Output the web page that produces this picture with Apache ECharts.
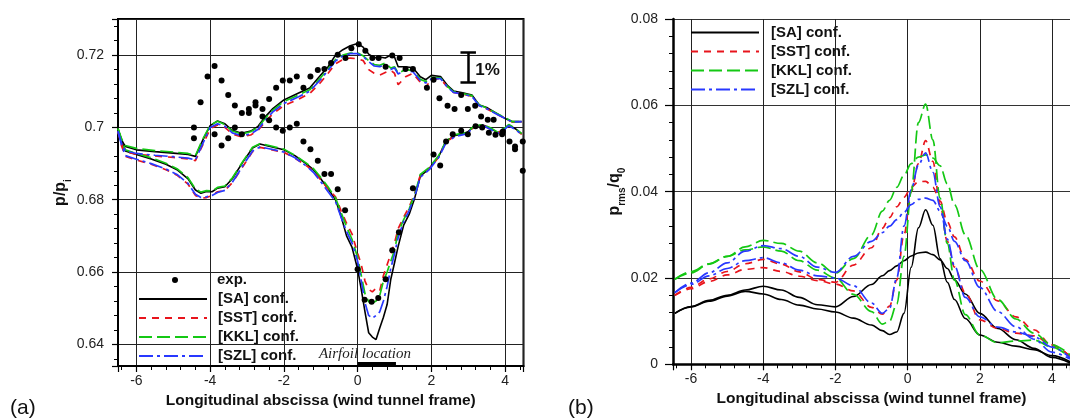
<!DOCTYPE html>
<html><head><meta charset="utf-8">
<script src="https://cdn.jsdelivr.net/npm/echarts@6/dist/echarts.min.js"></script>
<style>html,body{margin:0;padding:0;background:#fff}#c{width:1070px;height:419px}</style>
</head><body><div id="c"></div>
<script>
// ---------- Panel (a): p/p_i ----------
const X_A_UPPER = [-6.5,-6.4,-6.3,-6.0,-5.5,-5.0,-4.6,-4.4,-4.2,-4.0,-3.8,-3.6,-3.4,-3.15,-2.9,-2.7,-2.5,-2.3,-2.0,-1.6,-1.3,-1.0,-0.8,-0.6,-0.4,-0.2,0.0,0.15,0.3,0.45,0.6,0.75,0.9,1.0,1.1,1.3,1.5,1.7,1.85,2.0,2.25,2.45,2.6,2.85,3.1,3.3,3.5,3.75,4.0,4.2,4.45];
const SA_A_UPPER  = [0.6995,0.6965,0.6947,0.6938,0.6933,0.6929,0.6925,0.6920,0.6965,0.7005,0.7018,0.7010,0.6992,0.6984,0.6990,0.7003,0.7030,0.7052,0.7076,0.7095,0.7109,0.7145,0.7168,0.7200,0.7215,0.7226,0.7232,0.7222,0.7203,0.7193,0.7195,0.7192,0.7200,0.7195,0.7168,0.7168,0.7165,0.7140,0.7132,0.7144,0.7141,0.7115,0.7101,0.7096,0.7090,0.7062,0.7055,0.7040,0.7025,0.7016,0.7016];
const SST_A_UPPER = [0.6990,0.6953,0.6933,0.6926,0.6921,0.6917,0.6913,0.6908,0.6952,0.6996,0.7007,0.7000,0.6982,0.6974,0.6979,0.6992,0.7016,0.7038,0.7060,0.7078,0.7094,0.7125,0.7150,0.7176,0.7188,0.7192,0.7190,0.7185,0.7160,0.7150,0.7145,0.7152,0.7158,0.7150,0.7118,0.7140,0.7150,0.7125,0.7110,0.7135,0.7134,0.7110,0.7097,0.7092,0.7086,0.7060,0.7052,0.7038,0.7025,0.7015,0.7015];
const KKL_A_UPPER = [0.6997,0.6968,0.6950,0.6942,0.6936,0.6932,0.6928,0.6922,0.6968,0.7006,0.7017,0.7008,0.6990,0.6982,0.6988,0.7000,0.7026,0.7048,0.7072,0.7090,0.7104,0.7138,0.7162,0.7188,0.7200,0.7206,0.7206,0.7198,0.7185,0.7174,0.7172,0.7178,0.7164,0.7168,0.7150,0.7160,0.7157,0.7133,0.7127,0.7138,0.7137,0.7112,0.7099,0.7094,0.7088,0.7062,0.7054,0.7040,0.7027,0.7016,0.7016];
const SZL_A_UPPER = [0.6990,0.6955,0.6935,0.6928,0.6923,0.6919,0.6915,0.6910,0.6955,0.7000,0.7010,0.7003,0.6985,0.6977,0.6982,0.6995,0.7020,0.7043,0.7066,0.7085,0.7100,0.7133,0.7158,0.7184,0.7198,0.7204,0.7204,0.7196,0.7182,0.7170,0.7168,0.7174,0.7160,0.7165,0.7148,0.7158,0.7154,0.7130,0.7123,0.7135,0.7135,0.7110,0.7097,0.7092,0.7086,0.7060,0.7052,0.7038,0.7025,0.7015,0.7016];

const X_A_LOWER = [-6.5,-6.4,-6.3,-6.0,-5.6,-5.2,-4.9,-4.6,-4.4,-4.25,-4.1,-3.95,-3.8,-3.6,-3.4,-3.1,-2.85,-2.65,-2.4,-2.0,-1.7,-1.4,-1.2,-1.0,-0.8,-0.6,-0.45,-0.3,-0.15,0.0,0.1,0.2,0.3,0.4,0.5,0.6,0.7,0.8,0.9,1.0,1.1,1.25,1.4,1.55,1.7,1.95,2.2,2.4,2.65,2.95,3.15,3.4,3.6,3.8,4.0,4.1,4.3,4.45];
const SA_A_LOWER  = [0.6995,0.6960,0.6935,0.6925,0.6913,0.6898,0.6883,0.6858,0.6827,0.6818,0.6823,0.6822,0.6832,0.6836,0.6858,0.6906,0.6943,0.6954,0.6948,0.6938,0.6922,0.6900,0.6883,0.6858,0.6830,0.6800,0.6755,0.6700,0.6668,0.6608,0.6551,0.6490,0.6432,0.6420,0.6413,0.6445,0.6475,0.6510,0.6580,0.6625,0.6671,0.6730,0.6760,0.6805,0.6865,0.6887,0.6920,0.6962,0.6978,0.6984,0.7002,0.7007,0.6998,0.6985,0.6998,0.7007,0.6995,0.6982];
const SST_A_LOWER = [0.6988,0.6948,0.6920,0.6910,0.6898,0.6883,0.6868,0.6843,0.6812,0.6804,0.6806,0.6812,0.6822,0.6826,0.6847,0.6894,0.6933,0.6945,0.6940,0.6931,0.6915,0.6895,0.6880,0.6855,0.6830,0.6808,0.6770,0.6735,0.6705,0.6652,0.6620,0.6575,0.6552,0.6545,0.6555,0.6548,0.6590,0.6620,0.6650,0.6680,0.6720,0.6752,0.6780,0.6818,0.6868,0.6886,0.6918,0.6960,0.6977,0.6983,0.7000,0.7006,0.6996,0.6984,0.6997,0.7006,0.6994,0.6981];
const KKL_A_LOWER = [0.6997,0.6962,0.6938,0.6928,0.6916,0.6901,0.6886,0.6861,0.6830,0.6821,0.6825,0.6824,0.6834,0.6838,0.6860,0.6908,0.6945,0.6955,0.6950,0.6940,0.6923,0.6902,0.6886,0.6862,0.6835,0.6805,0.6765,0.6725,0.6690,0.6640,0.6590,0.6540,0.6518,0.6514,0.6520,0.6535,0.6575,0.6600,0.6630,0.6660,0.6710,0.6745,0.6775,0.6815,0.6870,0.6890,0.6922,0.6963,0.6980,0.6986,0.7003,0.7008,0.6999,0.6987,0.6999,0.7008,0.6996,0.6983];
const SZL_A_LOWER = [0.6988,0.6950,0.6922,0.6912,0.6900,0.6885,0.6870,0.6845,0.6815,0.6806,0.6808,0.6812,0.6820,0.6826,0.6848,0.6896,0.6935,0.6946,0.6941,0.6932,0.6916,0.6894,0.6876,0.6850,0.6822,0.6795,0.6752,0.6712,0.6680,0.6630,0.6575,0.6515,0.6480,0.6472,0.6480,0.6490,0.6520,0.6560,0.6610,0.6650,0.6695,0.6740,0.6770,0.6810,0.6862,0.6884,0.6917,0.6958,0.6975,0.6982,0.6999,0.7005,0.6995,0.6983,0.6996,0.7005,0.6993,0.6980];

// experimental points
const EXP_X = [-4.44,-4.26,-4.07,-3.88,-3.69,-3.51,-3.33,-3.14,-2.95,-2.95,-2.77,-2.77,-2.58,-2.40,-2.21,-2.03,-1.84,-1.65,-1.47,-1.28,-1.08,-0.90,-0.72,-0.54,-0.33,-0.17,0.03,0.21,0.40,0.57,0.76,0.94,1.14,1.30,1.50,1.88,2.06,2.22,2.44,2.63,2.81,2.99,3.19,3.35,3.53,3.69,3.94,4.12,4.27,4.27,4.48,4.48,
  -4.44,-3.88,-3.69,-3.51,-3.33,-3.14,-2.58,-2.40,-2.21,-2.03,-1.84,-1.65,-1.47,-1.28,-1.08,-0.90,-0.72,-0.54,-0.34,0.00,0.19,0.38,0.56,0.76,0.94,1.12,1.50,2.06,2.24,2.40,2.58,2.81,2.99,3.20,3.38,3.56,3.74,3.92];
const EXP_Y = [0.7000,0.7070,0.7141,0.7170,0.7130,0.7090,0.7061,0.7040,0.7051,0.7040,0.7070,0.7061,0.7051,0.7079,0.7110,0.7130,0.7130,0.7141,0.7110,0.7141,0.7159,0.7162,0.7178,0.7201,0.7192,0.7219,0.7230,0.7212,0.7192,0.7192,0.7168,0.7199,0.7192,0.7162,0.7162,0.7110,0.7132,0.7081,0.7060,0.7051,0.7090,0.7051,0.7060,0.7030,0.7021,0.7021,0.6989,0.6961,0.6947,0.6940,0.6961,0.6880,
  0.6970,0.6981,0.6950,0.6970,0.7000,0.6981,0.7030,0.7020,0.7000,0.6991,0.7000,0.7010,0.6961,0.6940,0.6908,0.6871,0.6871,0.6829,0.6771,0.6608,0.6523,0.6518,0.6528,0.6580,0.6660,0.6710,0.6832,0.6925,0.6895,0.6961,0.6981,0.6991,0.6981,0.7003,0.7000,0.6985,0.6980,0.6981];

// annotations of panel (a)
const AIRFOIL = {x0: 0.0, x1: 1.04, y: 0.6347, textX: 0.2, textY: 0.6374};
const ERRBAR = {x: 3.0, lo: 0.7125, hi: 0.7208, half: 0.21, labelY: 0.7158};

// ---------- Panel (b): p_rms/q_0 ----------
const X_B = [-6.45,-6.0,-5.5,-5.0,-4.5,-4.0,-3.5,-3.0,-2.5,-2.0,-1.5,-1.0,-0.7,-0.5,-0.3,-0.1,0.1,0.3,0.5,0.7,0.9,1.1,1.3,1.6,2.0,2.5,3.0,3.5,4.0,4.5];
const SA_B_SHARP  = [0.0118,0.0133,0.0146,0.0158,0.0169,0.0163,0.0150,0.0137,0.0128,0.0121,0.0107,0.0091,0.0078,0.0069,0.0075,0.0118,0.0225,0.0316,0.0358,0.0322,0.0245,0.0190,0.0150,0.0106,0.0068,0.0051,0.0042,0.0034,0.0020,0.0006];
const SA_B_BROAD  = [0.0118,0.0134,0.0148,0.0160,0.0172,0.0181,0.0172,0.0155,0.0138,0.0133,0.0157,0.0185,0.0205,0.0217,0.0228,0.0240,0.0251,0.0258,0.0260,0.0254,0.0242,0.0222,0.0196,0.0163,0.0118,0.0083,0.0057,0.0037,0.0016,0.0003];
const SST_B_SHARP = [0.0160,0.0175,0.0192,0.0207,0.0220,0.0224,0.0215,0.0204,0.0194,0.0186,0.0170,0.0132,0.0116,0.0135,0.0195,0.0300,0.0400,0.0465,0.0518,0.0470,0.0370,0.0285,0.0225,0.0165,0.0103,0.0083,0.0072,0.0066,0.0045,0.0018];
const SST_B_BROAD = [0.0160,0.0178,0.0198,0.0215,0.0233,0.0243,0.0232,0.0214,0.0197,0.0190,0.0230,0.0270,0.0315,0.0340,0.0365,0.0387,0.0410,0.0423,0.0424,0.0410,0.0378,0.0330,0.0295,0.0243,0.0193,0.0147,0.0110,0.0080,0.0044,0.0018];
const KKL_B_SHARP = [0.0197,0.0212,0.0232,0.0250,0.0265,0.0272,0.0262,0.0240,0.0218,0.0200,0.0162,0.0122,0.0093,0.0100,0.0140,0.0250,0.0400,0.0560,0.0603,0.0520,0.0385,0.0280,0.0195,0.0115,0.0068,0.0050,0.0054,0.0056,0.0040,0.0015];
const KKL_B_BROAD = [0.0197,0.0215,0.0233,0.0250,0.0272,0.0287,0.0280,0.0262,0.0235,0.0211,0.0245,0.0300,0.0355,0.0380,0.0410,0.0438,0.0465,0.0480,0.0485,0.0478,0.0460,0.0418,0.0370,0.0300,0.0220,0.0150,0.0105,0.0072,0.0045,0.0022];
const SZL_B_SHARP = [0.0166,0.0185,0.0205,0.0222,0.0240,0.0247,0.0235,0.0218,0.0205,0.0200,0.0182,0.0142,0.0118,0.0130,0.0200,0.0320,0.0405,0.0462,0.0490,0.0445,0.0365,0.0290,0.0228,0.0155,0.0110,0.0086,0.0075,0.0064,0.0040,0.0015];
const SZL_B_BROAD = [0.0166,0.0188,0.0212,0.0235,0.0262,0.0275,0.0268,0.0250,0.0225,0.0213,0.0250,0.0285,0.0305,0.0320,0.0335,0.0352,0.0370,0.0382,0.0385,0.0380,0.0355,0.0320,0.0285,0.0240,0.0178,0.0122,0.0087,0.0058,0.0028,0.0012];

const NAMES = ['[SA] conf.','[SST] conf.','[KKL] conf.','[SZL] conf.'];
const X_TITLE = 'Longitudinal abscissa (wind tunnel frame)';

// ---------- build ----------
const FONT = 'Liberation Sans, Arial, Helvetica, sans-serif';
const zip = (xs, ys) => xs.map((x, i) => [x, ys[i]]);
const STY = [
  {color:'#000000', width:1.6, type:'solid'},
  {color:'#e8141c', width:1.7, type:[7,6]},
  {color:'#14c814', width:1.7, type:[13,5]},
  {color:'#2838ff', width:1.7, type:[14,4,3,4]}
];
const A_UP = [SA_A_UPPER, SST_A_UPPER, KKL_A_UPPER, SZL_A_UPPER];
const A_LO = [SA_A_LOWER, SST_A_LOWER, KKL_A_LOWER, SZL_A_LOWER];
const B_SH = [SA_B_SHARP, SST_B_SHARP, KKL_B_SHARP, SZL_B_SHARP];
const B_BR = [SA_B_BROAD, SST_B_BROAD, KKL_B_BROAD, SZL_B_BROAD];

const series = [];
NAMES.forEach((n, k) => {
  [zip(X_A_UPPER, A_UP[k]), zip(X_A_LOWER, A_LO[k])].forEach(d => series.push({
    type:'line', name:n, xAxisIndex:0, yAxisIndex:0, data:d, symbol:'none', showSymbol:false,
    lineStyle:STY[k], itemStyle:{color:STY[k].color}, z:3+k, silent:true
  }));
});
NAMES.forEach((n, k) => {
  [zip(X_B, B_SH[k]), zip(X_B, B_BR[k])].forEach(d => series.push({
    type:'line', name:n, xAxisIndex:1, yAxisIndex:1, data:d, symbol:'none', showSymbol:false,
    smooth:0.35, smoothMonotone:'x', lineStyle:STY[k], itemStyle:{color:STY[k].color}, z:3+k, silent:true
  }));
});
series.push({
  type:'scatter', name:'exp.', xAxisIndex:0, yAxisIndex:0, data:zip(EXP_X, EXP_Y),
  symbol:'circle', symbolSize:6, itemStyle:{color:'#000', opacity:1}, z:10, silent:true
});
// annotations (airfoil bar + 1% error bar)
series.push({
  type:'line', name:'annot', xAxisIndex:0, yAxisIndex:0, data:[], silent:true, z:11,
  markLine:{
    silent:true, symbol:['none','none'], animation:false, label:{show:false},
    data:[
      [{coord:[AIRFOIL.x0, AIRFOIL.y], lineStyle:{width:4,color:'#000',type:'solid'}},
       {coord:[AIRFOIL.x1, AIRFOIL.y]}],
      [{coord:[ERRBAR.x, ERRBAR.lo], lineStyle:{width:2.5,color:'#000',type:'solid'}},
       {coord:[ERRBAR.x, ERRBAR.hi]}],
      [{coord:[ERRBAR.x-ERRBAR.half, ERRBAR.hi], lineStyle:{width:2.5,color:'#000',type:'solid'}},
       {coord:[ERRBAR.x+ERRBAR.half, ERRBAR.hi]}],
      [{coord:[ERRBAR.x-ERRBAR.half, ERRBAR.lo], lineStyle:{width:2.5,color:'#000',type:'solid'}},
       {coord:[ERRBAR.x+ERRBAR.half, ERRBAR.lo]}]
    ]
  },
  markPoint:{
    silent:true, animation:false, symbol:'circle', symbolSize:0,
    data:[
      {coord:[ERRBAR.x, ERRBAR.labelY], label:{show:true, position:'right', distance:7, formatter:'1%',
        fontFamily:FONT, fontWeight:'bold', fontSize:17, color:'#111'}},
      {coord:[AIRFOIL.textX, AIRFOIL.textY], label:{show:true, position:'inside', formatter:'Airfoil location',
        fontFamily:'Liberation Serif, Times New Roman, serif', fontStyle:'italic', fontSize:15, color:'#222'}}
    ]
  }
});

function xAxisCfg(grid, lw) {
  return {
    gridIndex:grid, type:'value', min:-6.5, max:4.5, splitNumber:5,
    axisLine:{show:true, onZero:false, lineStyle:{color:'#000', width:lw}},
    axisTick:{show:true, inside:false, length:6, lineStyle:{color:'#000', width:1.2}},
    minorTick:{show:true, splitNumber:5, length:4, lineStyle:{color:'#000', width:1}},
    axisLabel:{showMinLabel:false, showMaxLabel:false, margin:8, fontSize:14, color:'#222', fontFamily:FONT},
    splitLine:{show:true, lineStyle:{color:'#222', width:1}},
    name:X_TITLE, nameLocation:'middle', nameGap:26,
    nameTextStyle:{fontSize:15.5, fontWeight:'bold', color:'#111', fontFamily:FONT}
  };
}
const legendText = {fontSize:15, fontWeight:'bold', color:'#111', fontFamily:FONT, padding:[0,0,0,6], lineHeight:15};
const option = {
  animation:false,
  backgroundColor:'#fff',
  textStyle:{fontFamily:FONT},
  title:[
    {text:'(a)', left:5, top:393, textStyle:{fontSize:21, fontWeight:'normal', color:'#111', fontFamily:FONT}},
    {text:'(b)', left:563, top:393, textStyle:{fontSize:21, fontWeight:'normal', color:'#111', fontFamily:FONT}}
  ],
  grid:[
    {left:118, top:19, width:405.5, height:347, show:true, borderColor:'#000', borderWidth:2, backgroundColor:'transparent'},
    {left:673, top:19, width:406, height:345.3}
  ],
  xAxis:[xAxisCfg(0, 2), xAxisCfg(1, 2.5)],
  yAxis:[
    {gridIndex:0, type:'value', min:0.634, max:0.73, splitNumber:5,
     axisLine:{show:true, onZero:false, lineStyle:{color:'#000', width:2}},
     axisTick:{show:true, inside:false, length:6, lineStyle:{color:'#000', width:1.2}},
     minorTick:{show:true, splitNumber:5, length:4, lineStyle:{color:'#000', width:1}},
     axisLabel:{showMinLabel:false, showMaxLabel:false, margin:14, fontSize:14, color:'#222', fontFamily:FONT},
     splitLine:{show:true, lineStyle:{color:'#222', width:1}},
     name:'{b|p/p}{s|i}', nameLocation:'middle', nameGap:37,
     nameTextStyle:{rich:{
       b:{fontSize:16, fontWeight:'bold', color:'#111', fontFamily:FONT, padding:[0,0,4,0]},
       s:{fontSize:10, fontWeight:'bold', color:'#111', fontFamily:FONT, verticalAlign:'bottom'}}}},
    {gridIndex:1, type:'value', min:0, max:0.08, interval:0.02,
     axisLine:{show:true, onZero:false, lineStyle:{color:'#000', width:2.5}},
     axisTick:{show:true, inside:false, length:8, lineStyle:{color:'#000', width:1.2}},
     minorTick:{show:true, splitNumber:5, length:4, lineStyle:{color:'#000', width:1}},
     axisLabel:{margin:15, fontSize:14, color:'#222', fontFamily:FONT},
     splitLine:{show:true, lineStyle:{color:'#333', width:1}},
     name:'{b|p}{s|rms}{b|/q}{s|0}', nameLocation:'middle', nameGap:44,
     nameTextStyle:{rich:{
       b:{fontSize:16, fontWeight:'bold', color:'#111', fontFamily:FONT, padding:[0,0,4,0]},
       s:{fontSize:10, fontWeight:'bold', color:'#111', fontFamily:FONT, verticalAlign:'bottom'}}}}
  ],
  legend:[
    {data:['exp.'], orient:'vertical', left:167, top:267.5, itemWidth:6, itemHeight:6, itemGap:4,
     selectedMode:false, itemStyle:{color:'#000', opacity:1},
     textStyle:Object.assign({}, legendText, {padding:[0,0,0,34]})},
    {data:NAMES, orient:'vertical', left:133, top:286.5, itemWidth:68, itemHeight:14, itemGap:4,
     selectedMode:false, itemStyle:{opacity:0}, textStyle:legendText},
    {data:NAMES, orient:'vertical', left:685, top:20, itemWidth:68, itemHeight:14, itemGap:4,
     selectedMode:false, itemStyle:{opacity:0}, textStyle:Object.assign({}, legendText, {padding:[0,0,0,7]})}
  ],
  series:series
};
const chart = echarts.init(document.getElementById('c'), null, {renderer:'canvas'});
chart.setOption(option);
</script></body></html>
